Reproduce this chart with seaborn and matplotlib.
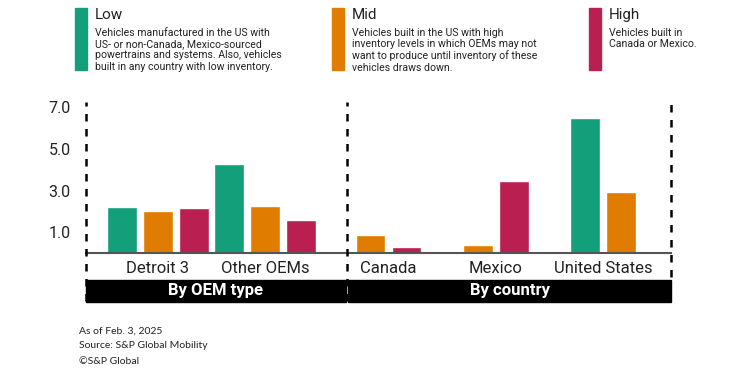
import matplotlib
matplotlib.use("Agg")
import matplotlib.pyplot as plt
from matplotlib.patches import Rectangle
import numpy as np
import pandas as pd
import seaborn as sns

# data
categories = ["Detroit 3", "Other OEMs", "Canada", "Mexico", "United States"]
section_of = [0, 0, 1, 1, 1]
low = [2.2, 4.3, None, None, 6.5]
mid = [2.0, 2.25, 0.85, 0.37, 2.93]
high = [2.15, 1.6, 0.27, 3.45, None]
levels = ["Low", "Mid", "High"]
level_notes = [
    "Vehicles manufactured in the US with\nUS- or non-Canada, Mexico-sourced\npowertrains and systems. Also, vehicles\nbuilt in any country with low inventory.",
    "Vehicles built in the US with high\ninventory levels in which OEMs may not\nwant to produce until inventory of these\nvehicles draws down.",
    "Vehicles built in\nCanada or Mexico.",
]
sections = ["By OEM type", "By country"]
yticks = [1.0, 3.0, 5.0, 7.0]
footer = ["As of Feb. 3, 2025", "Source: S&P Global Mobility", "\u00a9S&P Global"]

colors = {"Low": "#139f7a", "Mid": "#e07c00", "High": "#b91f51"}

sns.set_style("white")
plt.rcParams['font.family'] = ['Roboto', 'DejaVu Sans']

# long-form table, bars present in a group are centred under the label
step = 0.336
section_gap = 0.15
centers = [i + section_gap * s for i, s in enumerate(section_of)]
rows = []
series = {"Low": low, "Mid": mid, "High": high}
for i, cat in enumerate(categories):
    present = [lv for lv in levels if series[lv][i] is not None]
    n = len(present)
    for k, lv in enumerate(present):
        rows.append({"cat": cat, "level": lv, "value": series[lv][i],
                     "pos": centers[i] + (k - (n - 1) / 2) * step})
df = pd.DataFrame(rows)

fig = plt.figure(figsize=(7.5, 3.68), dpi=100)
ax = fig.add_axes([86 / 750, 115 / 368, 585 / 750, 151 / 368])

sns.barplot(data=df, x="pos", y="value", hue="level", hue_order=levels,
            palette=colors, native_scale=True, dodge=False, width=0.85,
            legend=False, saturation=1, ax=ax)

x0, x1 = -0.672, 4.786
divider = 1.763
ax.set_xlim(x0, x1)
ax.set_ylim(0, 7.26)
ax.set_xticks(centers)
ax.set_xticklabels(categories, fontsize=12, color="#222222")
ax.set_yticks(yticks)
ax.set_yticklabels([f"{v:.1f}" for v in yticks], fontsize=11.5, color="#222222")
ax.tick_params(axis="x", length=0, pad=6)
ax.tick_params(axis="y", length=0, pad=11)
ax.set_xlabel("")
ax.set_ylabel("")
for s in ["top", "right", "left"]:
    ax.spines[s].set_visible(False)
ax.spines["bottom"].set_color("#555555")
ax.spines["bottom"].set_linewidth(1.5)

# dashed separators
trans = ax.get_xaxis_transform()
for xv, ybot in [(x0, -0.32), (divider, -0.32), (x1, -0.16)]:
    ax.plot([xv, xv], [ybot, 1.0], transform=trans, color="black",
            lw=1.8, ls=(0, (3, 3)), clip_on=False, zorder=5)

# section bands
band_y, band_h = -0.322, 0.143
for (a, b), label in zip([(x0, divider - 0.01), (divider + 0.01, x1)], sections):
    ax.add_patch(Rectangle((a, band_y), b - a, band_h, transform=trans,
                           color="black", clip_on=False, zorder=4))
    ax.text((a + b) / 2, band_y + band_h / 2, label, transform=trans,
            color="white", fontsize=12, fontweight="bold",
            ha="center", va="center", zorder=6)

# legend at top
for (lx, lv, note) in zip([75, 332, 589], levels, level_notes):
    fig.add_artist(Rectangle((lx / 750, 1 - 70 / 368), 12 / 750, 62 / 368,
                             transform=fig.transFigure, color=colors[lv]))
    fig.text((lx + 20) / 750, 1 - 15 / 368, lv, fontsize=11, va="center",
             color="#222222")
    fig.text((lx + 20) / 750, 1 - 28 / 368, note, fontsize=7.6, va="top",
             color="#222222", linespacing=1.15)

# footer
for j, line in enumerate(footer):
    fig.text(79 / 750, 1 - (331 + j * 15) / 368, line, fontsize=7.5,
             va="center", family=["Lato", "DejaVu Sans"], color="#222222")

fig.savefig("out.png", dpi=100)
